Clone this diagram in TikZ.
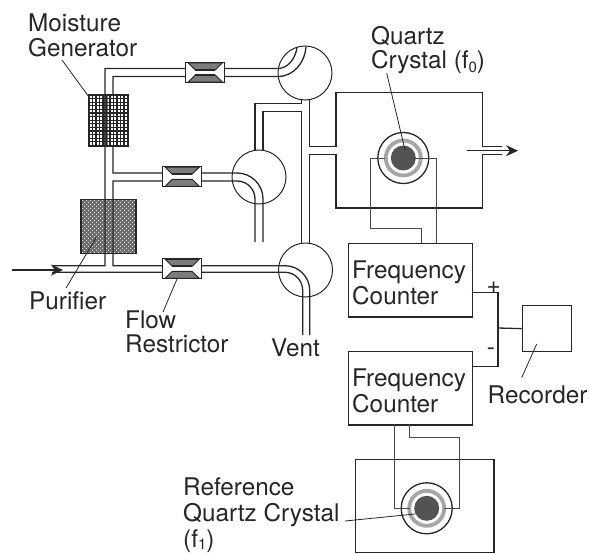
\documentclass[tikz,border=0pt]{standalone}
\usepackage{fontspec}
\setmainfont{TeX Gyre Heros}
\usetikzlibrary{arrows.meta}
\definecolor{ink}{HTML}{262626}
\definecolor{wire}{HTML}{4A4A4A}
\tikzset{
 x=1pt,y=-1pt,
 pipe/.style={draw=ink,line width=1.3pt},
 thinl/.style={draw=wire,line width=1pt},
 lead/.style={draw=ink,line width=0.8pt},
 box/.style={draw=ink,line width=1.3pt},
 lab/.style={font=\fontsize{24.3}{27}\selectfont,align=left,text=ink,inner sep=0pt},
 flow/.style={-{Stealth[length=12pt,width=11pt]},draw=ink,line width=1.2pt},
 valve/.style={circle,draw=ink,line width=1pt,minimum size=54pt,inner sep=0pt},
}
\newcommand{\subf}[1]{\raisebox{-4pt}{\fontsize{15}{15}\selectfont #1}}
\newcommand{\restrictor}[1]{%
 \begin{scope}[shift={(#1)}]
  \fill[white] (-19.5,-10) rectangle (19.5,10);
  \draw[ink,line width=.9pt,fill=gray!60!ink!80] (-17,-9.5) -- (17,-9.5) -- (10,-2.6) -- (-10,-2.6) -- cycle;
  \draw[ink,line width=.9pt,fill=gray!60!ink!80] (-17,9.5) -- (17,9.5) -- (10,2.6) -- (-10,2.6) -- cycle;
  \draw[ink,line width=1.6pt] (-10,-2.6) -- (10,-2.6) (-10,2.6) -- (10,2.6);
  \draw[box] (-19.5,-10) rectangle (19.5,10);
 \end{scope}}
\newcommand{\crystal}[1]{%
 \begin{scope}[shift={(#1)}]
  \draw[box,fill=white] (0,0) circle (25.5);
  \draw[draw=gray!70,line width=3.8pt] (0,0) circle (17.5);
  \fill[gray!50!ink] (0,0) circle (12.5);
 \end{scope}}
\begin{document}
\begin{tikzpicture}
\useasboundingbox (0,0) rectangle (589,554);
% purifier
\fill[gray!80!ink] (81,199.5) rectangle (136,253.5);
\foreach \i in {0,...,26}{\foreach \j in {0,...,26}{
  \pgfmathparse{int(mod(\i+\j,2))}
  \ifnum\pgfmathresult=0 \fill[white!70!gray] ({81.5+\i*2},{200+\j*2}) rectangle ++(1.1,1.1);\fi}}
\draw[box] (81,199.5) rectangle (136,253.5);
% moisture generator
\fill[white] (89,95) rectangle (128.7,146);
\foreach \x in {89,92.5,...,128.7} \draw[ink,line width=1.2pt] (\x,95) -- (\x,146);
\foreach \y in {95,98.6,...,146} \draw[ink,line width=1.1pt] (89,\y) -- (128.7,\y);
\fill[ink,opacity=.6] (102,95) rectangle (108,146);
\draw[box,line width=1.4pt] (89,95) rectangle (128.7,146);
% valves
\node[valve] (vt) at (305,73) {};
\node[valve] (vm) at (259,177) {};
\node[valve] (vb) at (305.5,270) {};
% pipes
\draw[pipe] (297,47) .. controls (296,58) and (288,68.5) .. (278,68.5) -- (105,68.5) -- (105,265.7) -- (52,265.7);
\draw[pipe] (306,47) .. controls (305,62) and (294,76.5) .. (278,76.5) -- (113,76.5) -- (113,95);
\draw[pipe] (113,146) -- (113,173) -- (237,173) .. controls (251.4,173) and (263,184.6) .. (263,199) -- (263,242);
\draw[pipe] (255,242) -- (255,199) .. controls (255,189) and (247,181) .. (237,181) -- (113,181) -- (113,265.7) -- (285,265.7) .. controls (298.6,265.7) and (309.7,276.8) .. (309.7,290.4) -- (309.7,335);
\draw[pipe] (52,272.3) -- (285,272.3) .. controls (294.8,272.3) and (302.7,280.4) .. (302.7,290.4) -- (302.7,335);
\draw[pipe] (255,150) -- (255,103.3) -- (301.7,103.3) -- (301.7,100);
\draw[pipe] (263,150) -- (263,111.5) -- (301.7,111.5) -- (301.7,243.2);
\draw[pipe] (309.3,99.8) -- (309.3,146.5) -- (336,146.5) -- (336,92.7) -- (482.7,92.7) -- (482.7,146.7) -- (501.7,146.7);
\draw[pipe] (309.3,243.2) -- (309.3,154.5) -- (336,154.5) -- (336,208) -- (482.7,208) -- (482.7,154.7) -- (501.7,154.7);
\coordinate (inA) at (12,270);
\coordinate (inB) at (63,270);
\draw[flow] (inA) -- (inB);
\coordinate (outA) at (467,150.7);
\coordinate (outB) at (518,150.7);
\draw[flow] (outA) -- (outB);
% restrictors
\restrictor{205.3,72.5}
\restrictor{182.2,176.7}
\restrictor{182.2,268.8}
% crystals
\crystal{403.3,158}
\crystal{426.7,508.3}
% counters
\node[box,minimum width=124pt,minimum height=73.5pt,inner sep=0pt,anchor=north west] (fc1) at (347.5,242.7) {};
\node[box,minimum width=124pt,minimum height=73.5pt,inner sep=0pt,anchor=north west] (fc2) at (347.5,350.7) {};
\node[lab,anchor=west] at (352,272) {Frequency};
\node[lab,anchor=west] at (352,296) {Counter};
\node[lab,anchor=west] at (352,380) {Frequency};
\node[lab,anchor=west] at (352,404) {Counter};
\node[box,minimum width=49pt,minimum height=46pt,inner sep=0pt,anchor=north west] (rec) at (521.7,305) {};
\draw[box] (355.3,459.7) rectangle (494,552.3);
% wires
\draw[thinl] (385,158) -- (370.7,158) -- (370.7,228.7) -- (421.7,228.7) -- (421.7,242.7);
\draw[thinl] (411.7,158) -- (436,158) -- (436,242.7);
\draw[thinl] (394,424.3) -- (394,508.5) -- (410,508.5);
\draw[thinl] (409,424.3) -- (409,437.3) -- (459.3,437.3) -- (459.3,508.5) -- (444,508.5);
\draw[pipe] (471.5,292.7) -- (498,292.7) -- (498,366.3) -- (471.5,366.3);
\draw[pipe] (498,328) -- (rec.west);
% leads
\coordinate (l1) at (62,60); \coordinate (l1b) at (89,97);
\draw[lead] (l1) -- (l1b);
\coordinate (l2) at (66,288); \coordinate (l2b) at (96,238);
\draw[lead] (l2) -- (l2b);
\coordinate (l3) at (163,312); \coordinate (l3b) at (177,279);
\draw[lead] (l3) -- (l3b);
\coordinate (l4) at (386.7,73); \coordinate (l4b) at (405,150);
\draw[lead] (l4) -- (l4b);
\coordinate (l5) at (536.7,344); \coordinate (l5b) at (521.7,377.7);
\draw[lead] (l5) -- (l5b);
\coordinate (l6) at (345,521); \coordinate (l6b) at (415,514);
\draw[lead] (l6) -- (l6b);
% labels
\node[lab,anchor=base west] at (28,31) {Moisture};
\node[lab,anchor=base west] at (28,56) {Generator};
\node[lab,anchor=base west] at (29,309) {Purifier};
\node[lab,anchor=base west] at (125,328) {Flow};
\node[lab,anchor=base west] at (125,352) {Restrictor};
\node[lab,anchor=base west] at (271,356) {Vent};
\node[lab,anchor=base west] at (371,44) {Quartz};
\node[lab,anchor=base west] at (371,68) {Crystal (f\subf{0})};
\node[lab,anchor=base west] at (487.5,403) {Recorder};
\node[lab,anchor=base west] at (183,495) {Reference};
\node[lab,anchor=base west] at (183,521) {Quartz Crystal};
\node[lab,anchor=base west] at (183,547) {(f\raisebox{-2.5pt}{\fontsize{15}{15}\selectfont 1})};
\node[lab] at (493.7,288) {+};
\node[lab] at (491,352) {-};
\end{tikzpicture}
\end{document}
